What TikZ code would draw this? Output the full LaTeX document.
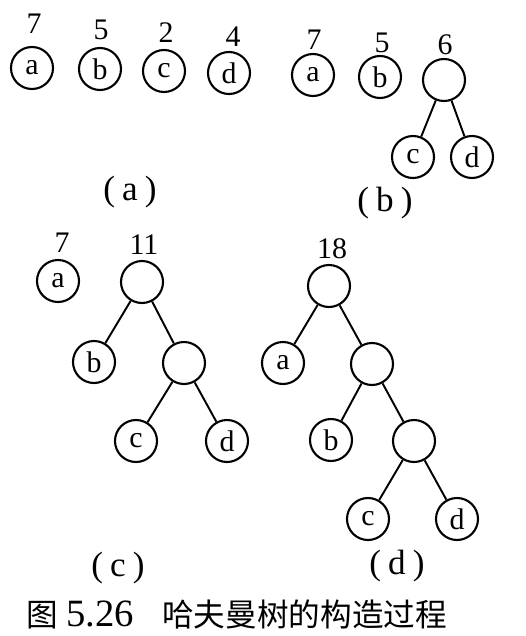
\documentclass[tikz,border=0pt]{standalone}
\usepackage{fontspec}
\setmainfont{Liberation Serif}
\newfontfamily\cjk{Noto Sans CJK SC}

\tikzset{
    hnode/.style={draw, circle, line width=1.2pt, minimum size=0.84cm, inner sep=0pt, font=\fontsize{17}{19}\selectfont},
    wt/.style={font=\fontsize{17}{19}\selectfont},
    sublabel/.style={font=\fontsize{20}{22}\selectfont},
    branch/.style={line width=1.1pt}
}

\begin{document}
\begin{tikzpicture}[x=0.02cm, y=-0.02cm]
    \useasboundingbox (0, 0) rectangle (525, 636);

    % (a)
    \node[hnode] (aa) at (32, 68) {a};
    \node[hnode] (ab) at (100, 69) {b};
    \node[hnode] (ac) at (164, 71) {c};
    \node[hnode] (ad) at (229, 73) {d};
    \node[wt] (wa1) at (34, 24) {7};
    \node[wt] (wa2) at (101, 30) {5};
    \node[wt] (wa3) at (166, 33) {2};
    \node[wt] (wa4) at (233, 37) {4};
    \node[sublabel] (capa) at (130, 192) {(\hspace{0.2em}a\hspace{0.2em})};

    % (b)
    \node[hnode] (ba) at (313, 75) {a};
    \node[hnode] (bb) at (380, 77) {b};
    \node[hnode] (bcd) at (444, 80) {};
    \node[hnode] (bc) at (413, 157) {c};
    \node[hnode] (bd) at (472, 157) {d};
    \node[wt] (wb1) at (314, 40) {7};
    \node[wt] (wb2) at (382, 43) {5};
    \node[wt] (wb3) at (445, 45) {6};
    \draw[branch] (bcd) -- (bc);
    \draw[branch] (bcd) -- (bd);
    \node[sublabel] (capb) at (385, 203) {(\hspace{0.2em}b\hspace{0.2em})};

    % (c)
    \node[hnode] (ca) at (58, 281) {a};
    \node[hnode] (croot) at (142, 282) {};
    \node[hnode] (cb) at (94, 362) {b};
    \node[hnode] (cn) at (184, 363) {};
    \node[hnode] (cc) at (136, 441) {c};
    \node[hnode] (cd) at (227, 441) {d};
    \node[wt] (wc1) at (62, 243) {7};
    \node[wt] (wc2) at (144, 245) {11};
    \draw[branch] (croot) -- (cb);
    \draw[branch] (croot) -- (cn);
    \draw[branch] (cn) -- (cc);
    \draw[branch] (cn) -- (cd);
    \node[sublabel] (capc) at (118, 568) {(\hspace{0.2em}c\hspace{0.2em})};

    % (d)
    \node[hnode] (droot) at (329, 286) {};
    \node[hnode] (da) at (283, 363) {a};
    \node[hnode] (dn1) at (372, 364) {};
    \node[hnode] (db) at (331, 440) {b};
    \node[hnode] (dn2) at (414, 441) {};
    \node[hnode] (dc) at (368, 519) {c};
    \node[hnode] (dd) at (457, 519) {d};
    \node[wt] (wd1) at (332, 249) {18};
    \draw[branch] (droot) -- (da);
    \draw[branch] (droot) -- (dn1);
    \draw[branch] (dn1) -- (db);
    \draw[branch] (dn1) -- (dn2);
    \draw[branch] (dn2) -- (dc);
    \draw[branch] (dn2) -- (dd);
    \node[sublabel] (capd) at (397, 566) {(\hspace{0.2em}d\hspace{0.2em})};

    % caption
    \node[anchor=west, font=\fontsize{18}{20}\selectfont] (fig) at (20, 614) {{\cjk 图}\hspace{5pt}{\fontsize{22}{24}\selectfont 5.26}\hspace{16pt}{\cjk 哈夫曼树的构造过程}};
\end{tikzpicture}
\end{document}
